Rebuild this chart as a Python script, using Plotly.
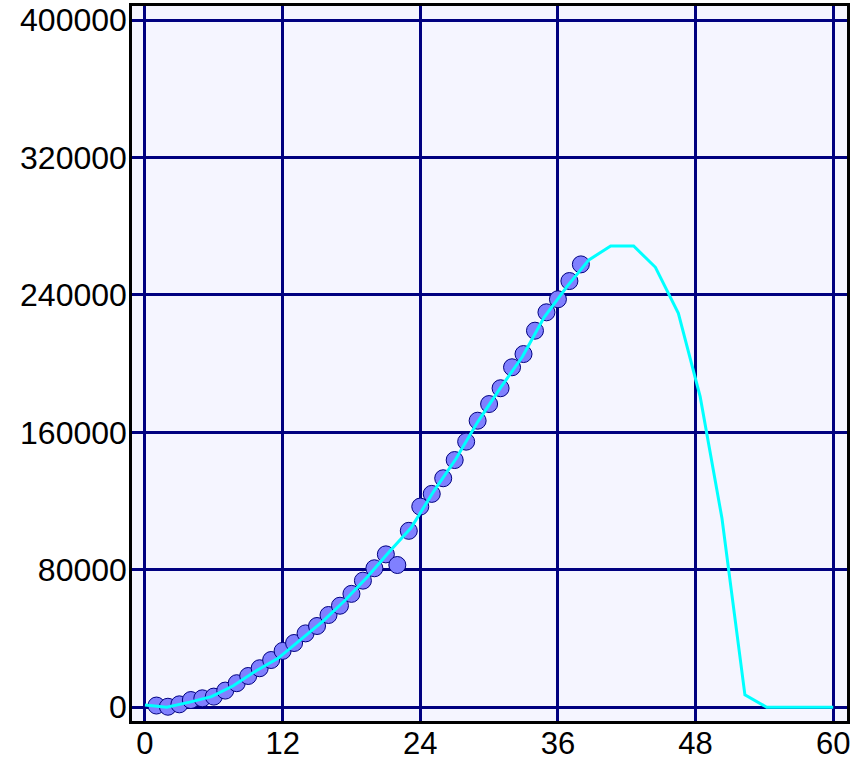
import plotly.graph_objects as go

# Observed data points (markers)
obs_x = [1, 2, 3, 4, 5, 6, 7, 8, 9, 10, 11, 12, 13, 14, 15, 16, 17, 18, 19,
         20, 21, 22, 23, 24, 25, 26, 27, 28, 29, 30, 31, 32, 33, 34, 35, 36, 37, 38]
obs_y = [1000, 300, 1700, 4200, 5200, 6200, 9700, 14000, 18200, 22700, 27500,
         32800, 37400, 43000, 47300, 53700, 59100, 66000, 73700, 80900, 89000,
         82800, 102700, 116800, 124200, 133300, 143900, 154600, 166800, 176500,
         185700, 197900, 205600, 219200, 229900, 237500, 248100, 257800]

# Model curve (cyan line)
fit_x = [0, 1.9, 3.9, 5.8, 7.7, 9.7, 11.6, 13.5, 15.5, 17.4, 19.4, 21.3, 23.2,
         25.2, 27.1, 29.0, 31.0, 32.9, 34.8, 36.8, 38.7, 40.6, 42.6, 44.5,
         46.5, 48.4, 50.3, 52.3, 54.2, 56.1, 58.1, 60.0]
fit_y = [1300, 0, 3000, 6200, 12500, 21300, 28500, 39000, 50000, 62000, 76000,
         90500, 104500, 126000, 144500, 166000, 186000, 204000, 227000, 245000,
         260400, 268500, 268500, 256100, 229300, 180800, 110000, 7200, 0, 0, 0, 0]

x_ticks = [0, 12, 24, 36, 48, 60]
y_ticks = [0, 80000, 160000, 240000, 320000, 400000]

fig = go.Figure()
fig.add_trace(go.Scatter(
    x=obs_x, y=obs_y, mode="markers",
    marker=dict(size=17, color="#8080FF", line=dict(color="#000080", width=1)),
    showlegend=False))
fig.add_trace(go.Scatter(
    x=fit_x, y=fit_y, mode="lines",
    line=dict(color="#00FFFF", width=3),
    showlegend=False, hoverinfo="skip"))

yfont = dict(family="Liberation Sans, Arial, sans-serif", size=32, color="black")
xfont = dict(family="Liberation Sans, Arial, sans-serif", size=31, color="black")

fig.update_layout(
    width=863, height=760,
    margin=dict(l=132, r=16, t=6, b=39),
    paper_bgcolor="white",
    plot_bgcolor="#F5F5FF",
    font=yfont,
    xaxis=dict(
        range=[-1.13, 61.2], tickvals=x_ticks, ticktext=[str(v) for v in x_ticks],
        showgrid=True, gridcolor="#000080", gridwidth=2.5,
        zeroline=False, showline=True, linecolor="black", linewidth=2.5,
        mirror=True, ticks="", tickfont=xfont, automargin=False,
        ticklabelstandoff=-7,
    ),
    yaxis=dict(
        range=[-8000, 408200], tickvals=y_ticks, ticktext=[str(v) for v in y_ticks],
        showgrid=True, gridcolor="#000080", gridwidth=2.5,
        zeroline=False, showline=True, linecolor="black", linewidth=2.5,
        mirror=True, ticks="", tickfont=yfont, automargin=False,
        ticklabelstandoff=-4,
    ),
)

fig.write_html(
    "out.html",
    config={"displayModeBar": False},
    post_script="document.body.style.margin='0';document.body.style.overflow='hidden';",
)
